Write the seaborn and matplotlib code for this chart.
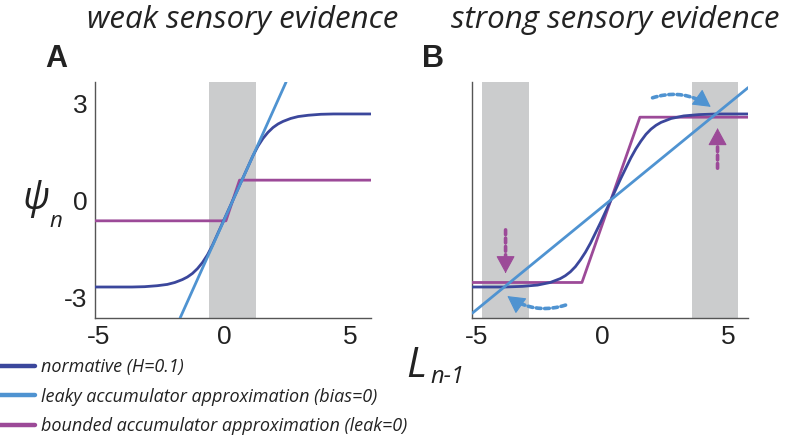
import numpy as np
import matplotlib
matplotlib.use("Agg")
import matplotlib.pyplot as plt
import seaborn as sns

# ---- data ----
# panel A (weak sensory evidence)
a_norm_x = [-5.15, -3.68, -3.18, -2.68, -2.28, -1.98, -1.68, -1.48, -1.28, -1.08, -0.88, -0.68, -0.48, -0.08,
            0.32, 0.72, 1.12, 1.32, 1.52, 1.72, 1.92, 2.12, 2.32, 2.62, 2.92, 3.32, 3.82, 4.32, 5.8]
a_norm_y = [-2.68, -2.68, -2.67, -2.64, -2.60, -2.54, -2.45, -2.37, -2.26, -2.11, -1.92, -1.68, -1.38, -0.69,
            0.0, 0.69, 1.38, 1.68, 1.92, 2.11, 2.26, 2.37, 2.45, 2.54, 2.60, 2.64, 2.67, 2.68, 2.68]
a_leaky_x = [-1.77, 2.44]
a_leaky_y = [-3.64, 3.67]
a_bound_x = [-5.15, 0.05, 0.59, 5.8]
a_bound_y = [-0.63, -0.63, 0.63, 0.63]
a_bands = [(-0.63, 1.23)]

# panel B (strong sensory evidence)
b_norm_x = [-5.15, -3.86, -3.16, -2.56, -2.06, -1.66, -1.46, -1.26, -1.06, -0.86, -0.66, -0.46, -0.06,
            0.34, 0.74, 1.14, 1.34, 1.54, 1.74, 1.94, 2.14, 2.34, 2.74, 3.24, 3.84, 4.54, 5.8]
b_norm_y = [-2.68, -2.68, -2.66, -2.62, -2.54, -2.42, -2.33, -2.21, -2.05, -1.84, -1.60, -1.32, -0.68,
            0.0, 0.68, 1.32, 1.60, 1.84, 2.05, 2.21, 2.33, 2.42, 2.54, 2.62, 2.66, 2.68, 2.68]
b_leaky_x = [-5.15, 5.8]
b_leaky_y = [-3.49, 3.50]
b_bound_x = [-5.15, -0.80, 1.50, 5.8]
b_bound_y = [-2.54, -2.54, 2.58, 2.58]
b_bands = [(-4.75, -2.90), (3.55, 5.40)]

# arrows in panel B: (start, end)
blue_arrows = [((2.0, 3.18), (4.31, 2.90)), ((-1.45, -3.24), (-3.76, -2.96))]
pink_arrows = [((4.58, 1.0), (4.58, 2.24)), ((-3.83, -0.91), (-3.83, -2.25))]

x_ticks = [-5, 0, 5]
y_ticks = [-3, 0, 3]

labels = ['normative (H=0.1)',
          'leaky accumulator approximation (bias=0)',
          'bounded accumulator approximation (leak=0)']

C_NORM = '#3b479c'
C_LEAKY = '#4f93d1'
C_BOUND = '#9c4a98'
C_BAND = '#cbcccd'

sns.set_theme(style='white')
plt.rcParams['font.family'] = ['Liberation Sans', 'DejaVu Sans']
ital = ['Open Sans', 'DejaVu Sans']

W, H = 785, 438
fig = plt.figure(figsize=(W / 100, H / 100), dpi=100)
axA = fig.add_axes([95 / W, 1 - 318 / H, 275.7 / W, 236 / H])
axB = fig.add_axes([472.3 / W, 1 - 318 / H, 276 / W, 236 / H])


def draw_panel(ax, bands, nx, ny, lx, ly, bx, by):
    for lo, hi in bands:
        ax.axvspan(lo, hi, color=C_BAND, lw=0, zorder=0)
    sns.lineplot(x=bx, y=by, ax=ax, color=C_BOUND, lw=2.0, sort=False, estimator=None, zorder=3)
    sns.lineplot(x=nx, y=ny, ax=ax, color=C_NORM, lw=2.0, sort=False, estimator=None, zorder=4)
    sns.lineplot(x=lx, y=ly, ax=ax, color=C_LEAKY, lw=2.0, sort=False, estimator=None, zorder=5)
    ax.set_xlim(-5.15, 5.8)
    ax.set_ylim(-3.64, 3.67)
    ax.set_xticks(x_ticks)
    ax.set_xticklabels([str(t) for t in x_ticks])
    for s in ['top', 'right']:
        ax.spines[s].set_visible(False)
    for s in ['left', 'bottom']:
        ax.spines[s].set_color('#555555')
        ax.spines[s].set_linewidth(1.0)
    ax.tick_params(axis='both', length=0, labelsize=19, colors='#222222')
    ax.tick_params(axis='x', pad=5)
    ax.tick_params(axis='y', pad=5.5)
    ax.set_xlabel('')
    ax.set_ylabel('')


draw_panel(axA, a_bands, a_norm_x, a_norm_y, a_leaky_x, a_leaky_y, a_bound_x, a_bound_y)
draw_panel(axB, b_bands, b_norm_x, b_norm_y, b_leaky_x, b_leaky_y, b_bound_x, b_bound_y)
axA.set_yticks(y_ticks)
axA.set_yticklabels([str(t) for t in y_ticks])
axB.set_yticks([])


def dotted_arrow(ax, start, end, color, rad=0.0):
    """dotted shaft with a solid arrow head at the end"""
    ax.annotate('', xy=end, xytext=start,
                arrowprops=dict(arrowstyle='-', color=color, lw=2.6, linestyle=(0, (1.3, 1.0)),
                                connectionstyle=f'arc3,rad={rad}', shrinkA=0, shrinkB=9),
                zorder=6)
    # direction of the curve at its end, in display space
    s = ax.transData.transform(start)
    e = ax.transData.transform(end)
    d = e - s
    ctrl = (s + e) / 2 + rad * np.array([d[1], -d[0]])
    t = e - ctrl
    t = t / np.hypot(*t)
    base = ax.transData.inverted().transform(e - t * 2.0)
    ax.annotate('', xy=end, xytext=base,
                arrowprops=dict(arrowstyle='-|>,head_length=0.55,head_width=0.3', color=color,
                                lw=0.8, mutation_scale=20, shrinkA=0, shrinkB=0),
                zorder=7)


for (s, e) in blue_arrows:
    dotted_arrow(axB, s, e, C_LEAKY, rad=-0.25)
for (s, e) in pink_arrows:
    dotted_arrow(axB, s, e, C_BOUND)

# titles and panel letters
fig.text(243 / W, 1 - 20 / H, 'weak sensory evidence', ha='center', va='center',
         family=ital, style='italic', fontsize=22.5, color='#222222')
fig.text(615 / W, 1 - 20 / H, 'strong sensory evidence', ha='center', va='center',
         family=ital, style='italic', fontsize=22.5, color='#222222')
fig.text(45 / W, 1 - 67 / H, 'A', weight='bold', fontsize=22, va='baseline', color='#222222')
fig.text(422 / W, 1 - 67 / H, 'B', weight='bold', fontsize=22, va='baseline', color='#222222')

# axis labels
fig.text(36 / W, 1 - 199 / H, 'ψ', ha='center', va='center', family=ital, style='italic',
         fontsize=27, color='#222222')
fig.text(56 / W, 1 - 221 / H, 'n', ha='center', va='center', family=ital, style='italic',
         fontsize=16, color='#222222')
fig.text(406 / W, 1 - 377 / H, 'L', va='baseline', family=ital, style='italic',
         fontsize=30, color='#222222')
fig.text(430 / W, 1 - 383 / H, 'n-1', va='baseline', family=ital, style='italic',
         fontsize=17, color='#222222')

# legend
handles = [axA.lines[1], axA.lines[2], axA.lines[0]]
leg = fig.legend(handles, labels, loc='upper left', bbox_to_anchor=(0, 1 - 358 / H),
                 frameon=False, borderpad=0, borderaxespad=0,
                 handlelength=1.95, handletextpad=0.3, labelspacing=0.65,
                 prop=dict(family=ital, style='italic', size=13))
for h in leg.get_lines():
    h.set_linewidth(3.2)
for t in leg.get_texts():
    t.set_color('#222222')

fig.savefig('out.png', dpi=100)
